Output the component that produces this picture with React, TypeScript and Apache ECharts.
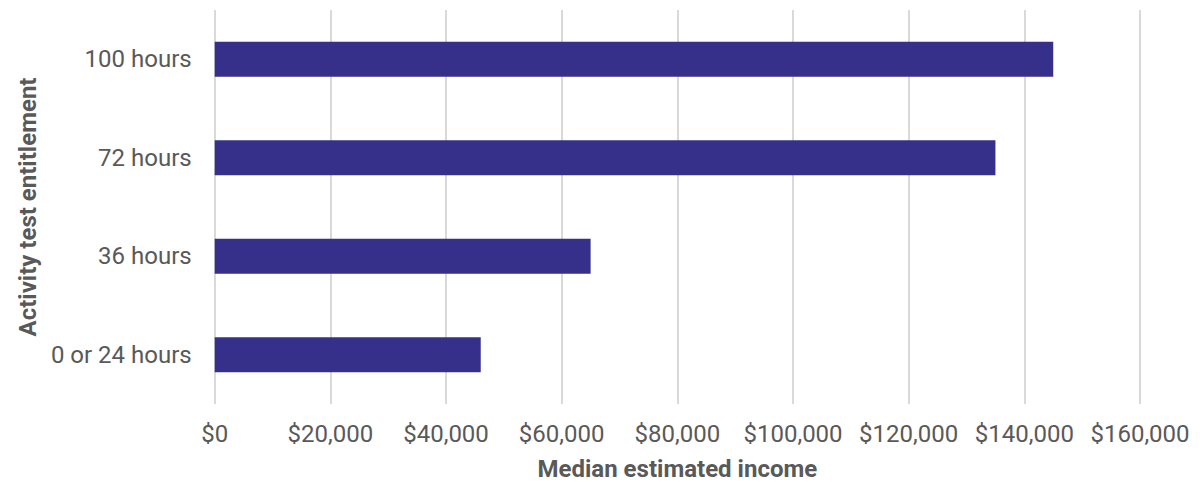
import React, { useEffect, useRef } from "react";
import * as echarts from "echarts";

const categories = ["0 or 24 hours", "36 hours", "72 hours", "100 hours"];
const medianIncome = [46000, 65000, 135000, 145000];
const xTicks = { min: 0, max: 160000, interval: 20000 };

export default function App() {
  const ref = useRef<HTMLDivElement>(null);
  useEffect(() => {
    const chart = echarts.init(ref.current!, null, { renderer: "svg" });
    chart.setOption({
      animation: false,
      textStyle: { fontFamily: "Roboto" },
      grid: { left: 199, right: 56, top: 2, bottom: 73, containLabel: false },
      xAxis: {
        type: "value",
        min: xTicks.min,
        max: xTicks.max,
        interval: xTicks.interval,
        name: "Median estimated income",
        nameLocation: "middle",
        nameGap: 53,
        nameTextStyle: { color: "#595959", fontSize: 24, fontWeight: "bold", fontFamily: "Roboto" },
        axisLine: { show: false },
        axisTick: { show: false },
        axisLabel: {
          color: "#595959",
          fontSize: 24,
          margin: 18,
          fontFamily: "Roboto",
          formatter: (v: number) => "$" + v.toLocaleString("en-US"),
        },
        splitLine: { show: true, lineStyle: { color: "#d9d9d9", width: 2 } },
      },
      yAxis: {
        type: "category",
        data: categories,
        name: "Activity test entitlement",
        nameLocation: "middle",
        nameGap: 174,
        nameTextStyle: { color: "#595959", fontSize: 24, fontWeight: "bold", fontFamily: "Roboto" },
        axisLine: { show: false },
        axisTick: { show: false },
        axisLabel: { color: "#595959", fontSize: 24, margin: 23, fontFamily: "Roboto" },
        splitLine: { show: false },
      },
      series: [
        {
          type: "bar",
          data: medianIncome,
          barWidth: "35.6%",
          itemStyle: { color: "#36308a" },
        },
      ],
    });
    return () => chart.dispose();
  }, []);
  return <div ref={ref} style={{ width: 1188, height: 478 }} />;
}
